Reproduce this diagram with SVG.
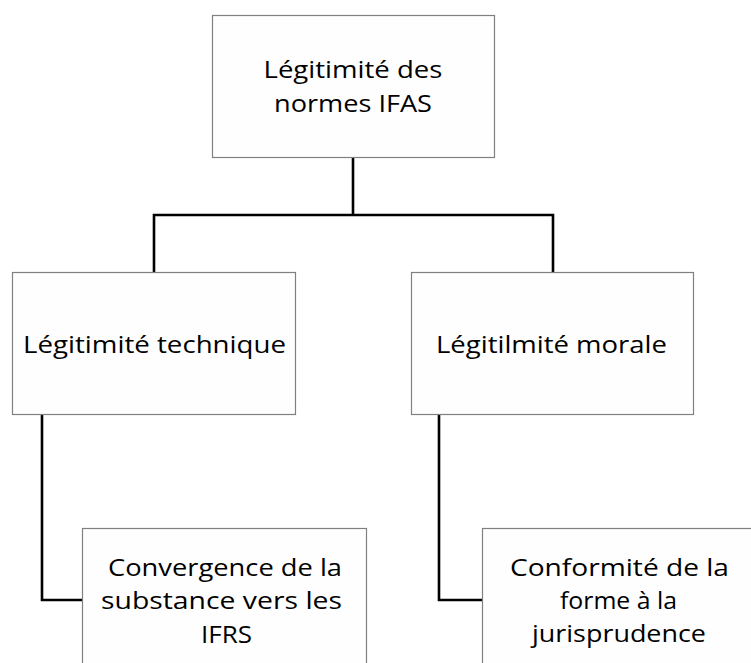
<svg xmlns="http://www.w3.org/2000/svg" width="751" height="663" viewBox="0 0 751 663">
<style>
.box{fill:#fefefe;stroke:#808080;stroke-width:1.2}
.lbl{font-family:"Open Sans","Liberation Sans",sans-serif;font-size:24px;fill:#000;text-anchor:middle}
.con{fill:none;stroke:#000;stroke-width:2.6;stroke-linejoin:miter}
</style>
<rect width="751" height="663" fill="#ffffff"/>
<g id="connectors">
<path class="con" d="M353 157 V215"/>
<path class="con" d="M154 272 V215 H553 V272"/>
<path class="con" d="M42 414 V600 H82"/>
<path class="con" d="M439 414 V600 H482"/>
</g>
<g id="node-root">
<rect class="box" x="212.5" y="15.5" width="282" height="142"/>
<text class="lbl" x="353" y="78" textLength="179" lengthAdjust="spacingAndGlyphs">Légitimité des</text>
<text class="lbl" x="353" y="112" textLength="158" lengthAdjust="spacingAndGlyphs">normes IFAS</text>
</g>
<g id="node-technique">
<rect class="box" x="12.5" y="272.5" width="283" height="142"/>
<text class="lbl" x="154.5" y="353" textLength="263" lengthAdjust="spacingAndGlyphs">Légitimité technique</text>
</g>
<g id="node-morale">
<rect class="box" x="411.5" y="272.5" width="282" height="142"/>
<text class="lbl" x="551.5" y="353" textLength="231" lengthAdjust="spacingAndGlyphs">Légitilmité morale</text>
</g>
<g id="node-convergence">
<rect class="box" x="82.5" y="528.5" width="284" height="160"/>
<text class="lbl" x="225" y="576" textLength="234" lengthAdjust="spacingAndGlyphs">Convergence de la</text>
<text class="lbl" x="221.5" y="609" textLength="241" lengthAdjust="spacingAndGlyphs">substance vers les</text>
<text class="lbl" x="226.5" y="643" textLength="51" lengthAdjust="spacingAndGlyphs">IFRS</text>
</g>
<g id="node-conformite">
<rect class="box" x="482.5" y="528.5" width="284" height="160"/>
<text class="lbl" x="619.5" y="576" textLength="219" lengthAdjust="spacingAndGlyphs">Conformité de la</text>
<text class="lbl" x="618.5" y="609" textLength="117" lengthAdjust="spacingAndGlyphs">forme à la</text>
<text class="lbl" x="619" y="642" textLength="174" lengthAdjust="spacingAndGlyphs">jurisprudence</text>
</g>
</svg>
